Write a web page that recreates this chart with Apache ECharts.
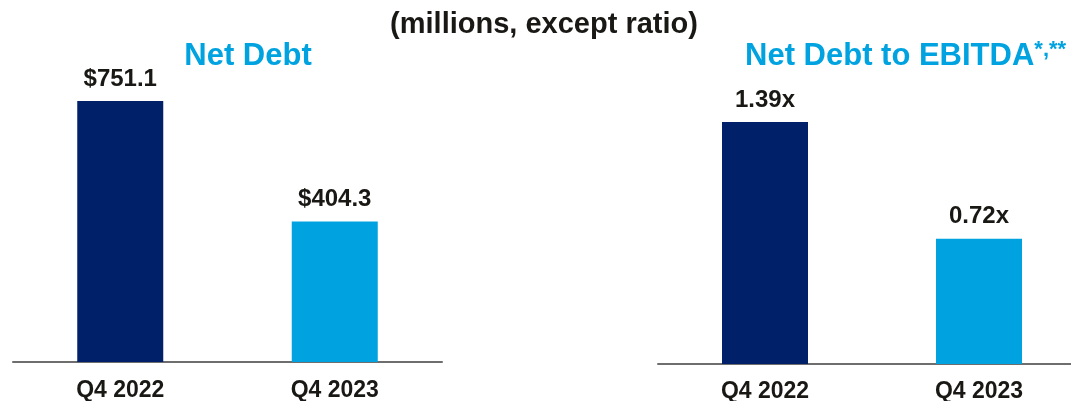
<!DOCTYPE html>
<html>
<head>
<meta charset="utf-8">
<script src="https://cdn.jsdelivr.net/npm/echarts@6/dist/echarts.min.js"></script>
<style>
  html, body { margin: 0; padding: 0; background: #fff; }
  #chart { width: 1071px; height: 401px; }
</style>
</head>
<body>
<div id="chart"></div>
<script>
// data
const categories = ['Q4 2022', 'Q4 2023'];
const netDebt = [751.1, 404.3];
const netDebtToEbitda = [1.39, 0.72];
const barColors = ['#002169', '#00A3E0'];

const FONT = "'Liberation Sans', Arial, sans-serif";
const TEXT = '#1a1814';
const BLUE = '#00A3E0';

let myChart = echarts.init(document.getElementById('chart'));

function xAxisFor(idx, margin) {
    return {
        type: 'category',
        gridIndex: idx,
        data: categories,
        axisLine: { lineStyle: { color: '#6e6e6e', width: 2 } },
        axisTick: { show: false },
        axisLabel: {
            margin: margin,
            color: TEXT,
            fontFamily: FONT,
            fontWeight: 'bold',
            fontSize: 23
        }
    };
}

let option = {
    backgroundColor: '#fff',
    animation: false,
    grid: [
        { left: 13, width: 429, top: 101, bottom: 39, outerBoundsMode: 'none' },
        // right panel runs past the right edge of the slide crop
        { left: 658, width: 428, top: 122, bottom: 37, outerBoundsMode: 'none' }
    ],
    xAxis: [xAxisFor(0, 17), xAxisFor(1, 16)],
    yAxis: [
        { type: 'value', gridIndex: 0, min: 0, max: 751.1, show: false },
        { type: 'value', gridIndex: 1, min: 0, max: 1.39, show: false }
    ],
    graphic: [
        {
            type: 'text', x: 544, y: 25,
            style: {
                text: '(millions, except ratio)',
                fill: TEXT, font: 'bold 29px ' + FONT,
                align: 'center', verticalAlign: 'middle'
            }
        },
        {
            type: 'text', x: 248, y: 56,
            style: {
                text: 'Net Debt',
                fill: BLUE, font: 'bold 31px ' + FONT,
                align: 'center', verticalAlign: 'middle'
            }
        },
        {
            type: 'text', x: 745, y: 56,
            style: {
                text: '{a|Net Debt to EBITDA}{s|*,**}',
                align: 'left', verticalAlign: 'middle',
                rich: {
                    a: { fill: BLUE, fontFamily: FONT, fontWeight: 'bold', fontSize: 31, lineHeight: 34 },
                    s: { fill: BLUE, fontFamily: FONT, fontWeight: 'bold', fontSize: 22, lineHeight: 34, verticalAlign: 'top' }
                }
            }
        }
    ],
    series: [
        {
            type: 'bar',
            xAxisIndex: 0, yAxisIndex: 0,
            data: netDebt,
            barWidth: 86,
            itemStyle: { color: p => barColors[p.dataIndex] },
            label: {
                show: true, position: 'top', distance: 10,
                formatter: p => '$' + p.value.toFixed(1),
                color: TEXT, fontFamily: FONT, fontWeight: 'bold', fontSize: 24
            }
        },
        {
            type: 'bar',
            xAxisIndex: 1, yAxisIndex: 1,
            data: netDebtToEbitda,
            barWidth: 86,
            itemStyle: { color: p => barColors[p.dataIndex] },
            label: {
                show: true, position: 'top', distance: 10,
                formatter: p => p.value.toFixed(2) + 'x',
                color: TEXT, fontFamily: FONT, fontWeight: 'bold', fontSize: 24
            }
        }
    ]
};
myChart.setOption(option);
</script>
</body>
</html>
